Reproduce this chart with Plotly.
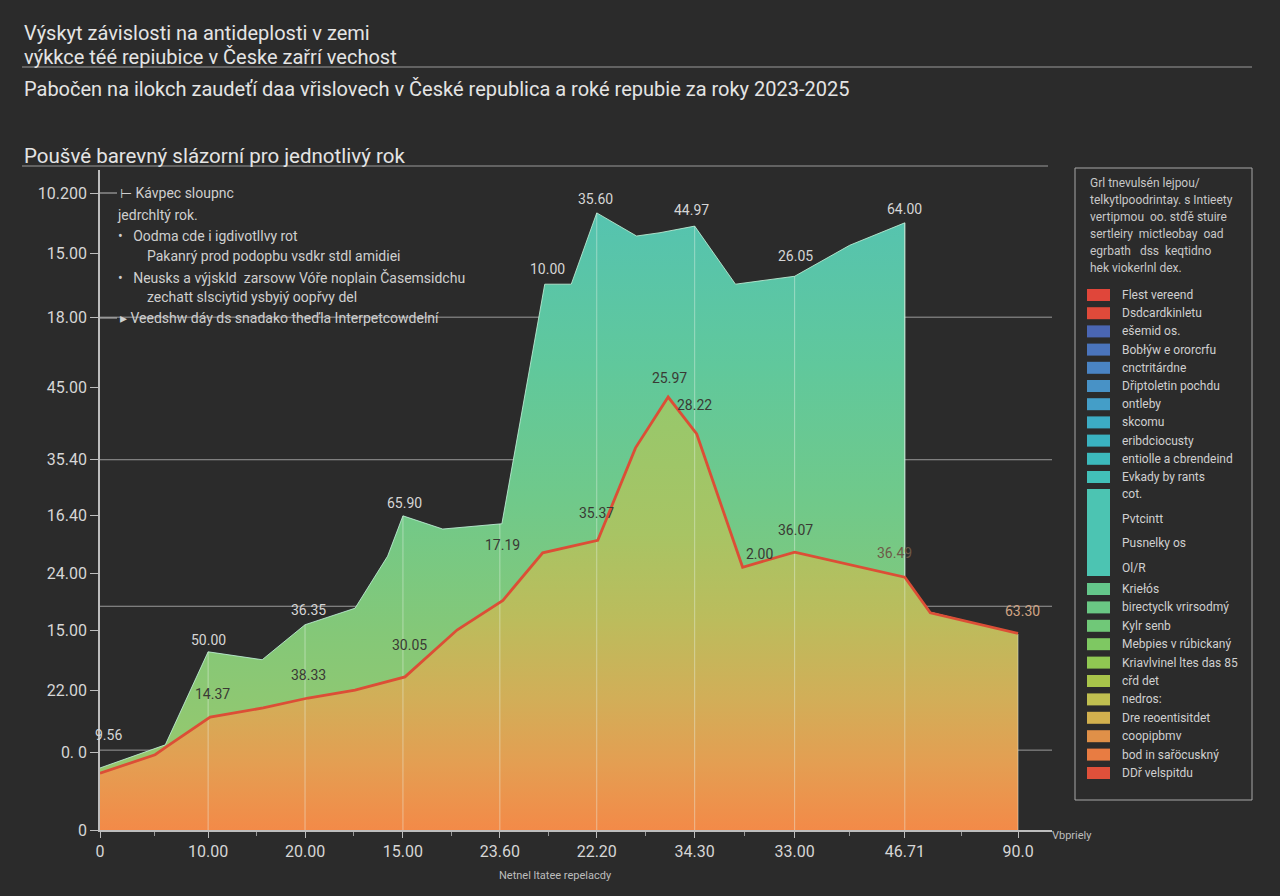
import numpy as np
import plotly.graph_objects as go

# ---------------- data ----------------
x_tick_pos = [0, 1.06, 2.01, 2.97, 3.92, 4.87, 5.83, 6.81, 7.89, 9.0]
x_tick_labels = ["0", "10.00", "20.00", "15.00", "23.60", "22.20", "34.30", "33.00", "46.71", "90.0"]

y_tick_pos = [96.5, 87.4, 77.7, 67.1, 56.1, 47.6, 38.9, 30.3, 21.2, 11.8, 0]
y_tick_labels = ["10.200", "15.00", "18.00", "45.00", "35.40", "16.40", "24.00", "15.00", "22.00", "0. 0", "0"]

grid_y = [77.7, 56.1, 33.9, 12.1]

area_x = [0, 0.64, 1.06, 1.59, 2.01, 2.50, 2.82, 2.97, 3.36, 3.94, 4.36, 4.62, 4.87,
          5.26, 5.49, 5.83, 6.23, 6.81, 7.35, 7.89, 7.89, 8.14, 9.0]
area_y = [9.4, 12.9, 27.0, 25.8, 31.1, 33.6, 41.5, 47.6, 45.6, 46.4, 82.7, 82.7, 93.5,
          90.0, 90.5, 91.5, 82.7, 83.9, 88.6, 92.0, 38.3, 33.0, 29.7]

line_x = [0, 0.54, 0.65, 1.08, 1.60, 2.04, 2.50, 2.99, 3.50, 3.95, 4.34, 4.88, 5.25,
          5.57, 5.85, 6.08, 6.30, 6.81, 7.89, 8.14, 9.0]
line_y = [8.6, 11.4, 12.6, 17.1, 18.5, 20.0, 21.2, 23.2, 30.3, 34.8, 42.0, 43.9, 57.9,
          65.6, 60.0, 49.5, 39.8, 42.1, 38.3, 32.9, 29.8]

label_text = ["9.56", "50.00", "14.37", "36.35", "38.33", "65.90", "30.05", "17.19", "10.00",
              "35.60", "44.97", "26.05", "64.00", "25.97", "28.22", "35.37", "2.00", "36.07",
              "36.49", "63.30"]
label_x = [0.08, 1.06, 1.10, 2.04, 2.04, 2.99, 3.03, 3.95, 4.39, 4.86, 5.80, 6.82, 7.89,
           5.58, 5.83, 4.87, 6.47, 6.82, 7.79, 9.04]
label_y = [14.4, 28.8, 20.6, 33.3, 23.5, 49.5, 28.0, 43.2, 85.0, 95.6, 93.9, 87.0, 94.1,
           68.5, 64.4, 48.0, 41.8, 45.5, 42.0, 33.2]
label_tone = ["light", "light", "dark", "light", "dark", "light", "dark", "dark", "light",
              "light", "light", "light", "light", "dark", "dark", "dark", "dark", "dark",
              "mid", "tan"]

legend_labels = ["Flest vereend", "Dsdcardkinletu", "ešemid os.", "Bobłýw e ororcrfu",
                 "cnctritárdne", "Dřiptoletin pochdu", "ontleby", "skcomu", "eribdciocusty",
                 "entiolle a cbrendeind", "Evkady by rants"]
legend_colors = ["#e0463a", "#e04a3a", "#4a66b4", "#4a74bc", "#4a84c4", "#4892c6", "#449ec8",
                 "#3cacc4", "#3ab2c0", "#3cbabc", "#42c0b8"]
legend_tall_labels = ["cot.", "Pvtcintt", "Pusnelky os", "Ol/R"]
legend2_labels = ["Kriełós", "birectyclk vrirsodmý", "Kylr senb", "Mebpies v rúbickaný",
                  "Kriavlvinel ltes das 85", "cřd det", "nedros:", "Dre reoentisitdet",
                  "coopipbmv", "bod in sařöcuskný", "DDř velspitdu"]
legend2_colors = ["#64c68a", "#6ac884", "#70c878", "#7ec862", "#90c852", "#a8c44a", "#c0bf50",
                  "#d2b04e", "#e09048", "#e87c42", "#e0503a"]
legend_desc = ["Grl tnevulsén lejpou/", "telkytlpoodrintay. s Intieety",
               "vertipmou  oo. stďě stuire", "sertleiry  mictleobay  oad",
               "egrbath   dss  keqtidno", "hek viokerlnl dex."]

notes = [("⊢ Kávpec sloupnc", 118, 193), ("jedrchltý rok.", 115, 215),
         ("•   Oodma cde i igdivotllvy rot", 116, 236),
         ("Pakanrý prod podopbu vsdkr stdl amidiei", 145, 256),
         ("•   Neusks a výjskld  zarsovw Vóře noplain Časemsidchu", 116, 277),
         ("zechatt slsciytid ysbyiý oopřvy del", 145, 297),
         ("▸ Veedshw dáy ds snadako theďla Interpetcowdelní", 118, 318)]

# ---------------- layout helpers ----------------
W, H = 1280, 896
ML, MR, MT, MB = 100, 228, 170, 66
PW, PH = W - ML - MR, H - MT - MB
BG = "#2b2b2b"
FONT = "Roboto"


def px(xp):
    return (xp - ML) / PW


def py(yp):
    return (H - MB - yp) / PH


fig = go.Figure()

# upper (green / teal) area
fig.add_trace(go.Scatter(
    x=area_x, y=area_y, mode="lines", fill="tozeroy",
    line=dict(color="rgba(190,240,215,0.85)", width=1),
    fillgradient=dict(type="vertical", start=0, stop=94,
                      colorscale=[[0, "#a4c466"], [0.16, "#92c870"], [0.32, "#84c878"],
                                  [0.53, "#70c98a"], [0.75, "#60c89c"], [1, "#55c3b0"]]),
    hoverinfo="skip", showlegend=False))

# lower (yellow / orange) area beneath the red line
fig.add_trace(go.Scatter(
    x=line_x, y=line_y, mode="lines", fill="tozeroy",
    line=dict(color="rgba(0,0,0,0)", width=0),
    fillgradient=dict(type="vertical", start=0, stop=66,
                      colorscale=[[0, "#f38a48"], [0.15, "#e49e52"], [0.3, "#d2ae58"],
                                  [0.48, "#bcbc5c"], [0.68, "#a8c464"], [1, "#96c86c"]]),
    hoverinfo="skip", showlegend=False))

# light vertical lines inside the area at the x ticks
vx, vy = [], []
for t in x_tick_pos[1:]:
    if t < 7.89:
        top = float(np.interp(t, area_x[:19], area_y[:19]))
    elif t == 7.89:
        top = area_y[19]
    else:
        top = float(np.interp(t, area_x[20:], area_y[20:]))
    vx += [t, t, None]
    vy += [0, top, None]
fig.add_trace(go.Scatter(x=vx, y=vy, mode="lines",
                         line=dict(color="rgba(235,245,235,0.45)", width=1),
                         hoverinfo="skip", showlegend=False))

# red line
fig.add_trace(go.Scatter(x=line_x, y=line_y, mode="lines",
                         line=dict(color="#dc4e36", width=2.8),
                         hoverinfo="skip", showlegend=False))

tone_col = {"light": "#d6d6d6", "dark": "#3a3a34", "tan": "#d0a484", "mid": "#6e5a48"}
for t, x, y, tone in zip(label_text, label_x, label_y, label_tone):
    fig.add_annotation(x=x, y=y, text=t, showarrow=False,
                       font=dict(family=FONT, size=14, color=tone_col[tone]))

shapes = []
for g in grid_y:
    shapes.append(dict(type="line", xref="x", yref="y", x0=0, x1=9.333, y0=g, y1=g,
                       line=dict(color="#9a9a9a", width=1), layer="below"))

# header lines
shapes.append(dict(type="line", xref="paper", yref="paper", x0=px(22), x1=px(1252),
                   y0=py(67), y1=py(67), line=dict(color="#9a9a9a", width=1)))
shapes.append(dict(type="line", xref="paper", yref="paper", x0=px(22), x1=px(1048),
                   y0=py(166), y1=py(166), line=dict(color="#9a9a9a", width=1)))
# short connector lines from axis to notes
for yy in (193, 318):
    shapes.append(dict(type="line", xref="paper", yref="paper", x0=px(100), x1=px(117),
                       y0=py(yy), y1=py(yy), line=dict(color="#bbbbbb", width=1)))

# legend box
shapes.append(dict(type="rect", xref="paper", yref="paper", x0=px(1075), x1=px(1252),
                   y0=py(800), y1=py(168), line=dict(color="#a8a8a8", width=1)))

texts = []
for i, line in enumerate(legend_desc):
    texts.append((line, 1088, 183 + i * 17, 12, "#c8c8c8"))

for i, (lab, col) in enumerate(zip(legend_labels, legend_colors)):
    yy = 295 + i * 18.2
    shapes.append(dict(type="rect", xref="paper", yref="paper", x0=px(1087), x1=px(1110),
                       y0=py(yy + 6), y1=py(yy - 6), fillcolor=col, line=dict(width=0)))
    texts.append((lab, 1120, yy, 12, "#d0d0d0"))

shapes.append(dict(type="rect", xref="paper", yref="paper", x0=px(1087), x1=px(1110),
                   y0=py(576), y1=py(489), fillcolor="#4cc4b2", line=dict(width=0)))
for i, lab in enumerate(legend_tall_labels):
    texts.append((lab, 1120, 494 + i * 24.7, 12, "#d0d0d0"))

for i, (lab, col) in enumerate(zip(legend2_labels, legend2_colors)):
    yy = 589 + i * 18.4
    shapes.append(dict(type="rect", xref="paper", yref="paper", x0=px(1087), x1=px(1110),
                       y0=py(yy + 6), y1=py(yy - 6), fillcolor=col, line=dict(width=0)))
    texts.append((lab, 1120, yy, 12, "#d0d0d0"))

# titles
texts += [
    ("Výskyt závislosti na antideplosti v zemi", 22, 33, 20, "#e4e4e4"),
    ("výkkce téé repiubice v Česke zařrí vechost", 22, 57, 20, "#e4e4e4"),
    ("Pabočen na ilokch zaudeťí daa vřislovech v České republica a roké repubie za roky 2023-2025",
     22, 89, 20, "#e4e4e4"),
    ("Poušvé barevný slázorní pro jednotlivý rok", 22, 156, 20.5, "#e4e4e4"),
    ("Netnel ltatee repelacdy", 497, 875, 11, "#bdbdbd"),
    ("Vbpriely", 1050, 835, 11, "#bdbdbd"),
]
for t, xx, yy in notes:
    texts.append((t, xx, yy, 14, "#cfcfcf"))

for t, xx, yy, sz, col in texts:
    fig.add_annotation(xref="paper", yref="paper", x=px(xx), y=py(yy), text=t,
                       showarrow=False, xanchor="left", yanchor="middle",
                       font=dict(family=FONT, size=sz, color=col))

fig.update_layout(
    width=W, height=H, paper_bgcolor=BG, plot_bgcolor=BG,
    margin=dict(l=ML, r=MR, t=MT, b=MB), showlegend=False, shapes=shapes,
    font=dict(family=FONT, color="#d6d6d6"),
    xaxis=dict(range=[0, 9.333], tickvals=x_tick_pos, ticktext=x_tick_labels,
               showgrid=False, zeroline=False, showline=True, linecolor="#bdbdbd",
               linewidth=1.5, ticks="outside", ticklen=6, tickcolor="#bdbdbd",
               tickfont=dict(family=FONT, size=16, color="#d6d6d6"),
               minor=dict(tickvals=[(a + b) / 2 for a, b in zip(x_tick_pos[:-1], x_tick_pos[1:])],
                          ticks="outside", ticklen=4, tickcolor="#9a9a9a")),
    yaxis=dict(range=[0, 100], tickvals=y_tick_pos, ticktext=y_tick_labels,
               showgrid=False, zeroline=False, showline=True, linecolor="#bdbdbd",
               linewidth=1.5, ticks="outside", ticklen=8, tickcolor="#bdbdbd",
               tickfont=dict(family=FONT, size=16, color="#d6d6d6")),
)

fig.write_html("out.html")
